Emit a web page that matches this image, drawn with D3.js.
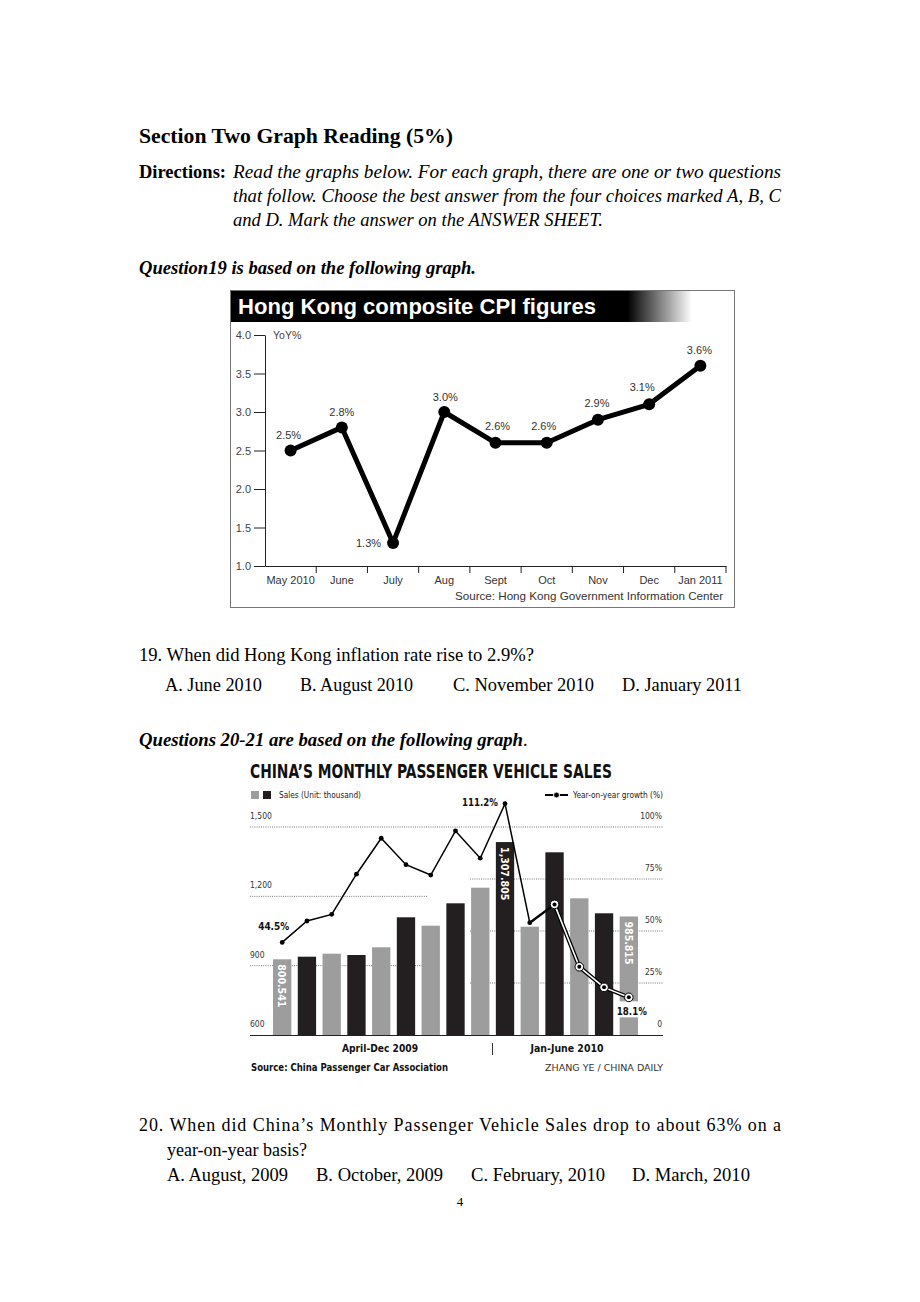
<!DOCTYPE html>
<html><head><meta charset="utf-8">
<script src="https://cdn.jsdelivr.net/npm/d3@7"></script>
<style>html,body{margin:0;padding:0;background:#fff;} svg{display:block;}</style>
</head><body>
<svg id="page" width="920" height="1302"></svg>
<script>
// ================= DATA =================
// Chart 1: Hong Kong composite CPI (YoY %)
const cpiMonths = ["May 2010","June","July","Aug","Sept","Oct","Nov","Dec","Jan 2011"];
const cpiValues = [2.5, 2.8, 1.3, 3.0, 2.6, 2.6, 2.9, 3.1, 3.6];
const cpiTicks  = [1.0, 1.5, 2.0, 2.5, 3.0, 3.5, 4.0];

// Chart 2: China's monthly passenger vehicle sales (thousand) and YoY growth (%)
const salesMonths  = ["Apr 2009","May 2009","Jun 2009","Jul 2009","Aug 2009","Sep 2009","Oct 2009","Nov 2009","Dec 2009",
                      "Jan 2010","Feb 2010","Mar 2010","Apr 2010","May 2010","Jun 2010"];
const salesValues  = [800.541, 811.8, 824.8, 819.1, 852.5, 982.3, 945.9, 1042.8, 1110.4,
                      1307.805, 941.6, 1263.5, 1064.5, 999.6, 985.815];
const growthValues = [44.5, 54.8, 58.0, 77.3, 94.6, 81.9, 76.9, 98.1, 85.0,
                      111.2, 54.0, 62.8, 32.8, 22.9, 18.1];
const salesTicks   = [600, 900, 1200, 1500];
const growthTicks  = [0, 25, 50, 75, 100];
const salesLabelIdx  = [0, 9, 14];
const growthLabelIdx = [0, 9, 14];

// ================= PAGE =================
const svg = d3.select("#page");
svg.append("rect").attr("width",920).attr("height",1302).attr("fill","#fff");

const SERIF = "'Liberation Serif','Times New Roman',serif";
const SANS  = "'Liberation Sans',Arial,sans-serif";
const COND  = "'DejaVu Sans Condensed','Liberation Sans Narrow','DejaVu Sans',sans-serif";

function txt(parent, x, y, s, o = {}) {
  const t = parent.append("text")
    .attr("x", x).attr("y", y)
    .attr("font-family", o.family || SERIF)
    .attr("font-size", o.size || 18)
    .attr("font-weight", o.weight || "normal")
    .attr("font-style", o.style || "normal")
    .attr("fill", o.fill || "#000")
    .attr("text-anchor", o.anchor || "start")
    .text(s);
  if (o.len) t.attr("textLength", o.len).attr("lengthAdjust", o.adjust || "spacingAndGlyphs");
  return t;
}

const page = svg.append("g");
txt(page, 139, 143, "Section Two Graph Reading (5%)", {size: 20, weight: "bold", len: 314});
txt(page, 139, 178, "Directions:", {weight: "bold", len: 87});
txt(page, 233, 178, "Read the graphs below. For each graph, there are one or two questions", {style: "italic", len: 548});
txt(page, 233, 202, "that follow. Choose the best answer from the four choices marked A, B, C", {style: "italic", len: 548});
txt(page, 233, 226, "and D. Mark the answer on the ANSWER SHEET.", {style: "italic", len: 370});
txt(page, 139, 274, "Question19 is based on the following graph.", {style: "italic", weight: "bold", len: 337});

txt(page, 139, 661, "19. When did Hong Kong inflation rate rise to 2.9%?", {len: 395});
txt(page, 165, 691, "A. June 2010", {len: 97});
txt(page, 300, 691, "B. August 2010", {len: 113});
txt(page, 453, 691, "C. November 2010", {len: 141});
txt(page, 622, 691, "D. January 2011", {len: 120});
txt(page, 139, 746, "Questions 20-21 are based on the following graph", {style: "italic", weight: "bold", len: 384});
txt(page, 523, 746, ".", {});

txt(page, 139, 1131, "20. When did China\u2019s Monthly Passenger Vehicle Sales drop to about 63% on a", {len: 642, adjust: "spacing"});
txt(page, 167, 1156, "year-on-year basis?", {len: 140});
txt(page, 167, 1181, "A. August, 2009", {len: 121});
txt(page, 316, 1181, "B. October, 2009", {len: 127});
txt(page, 471, 1181, "C. February, 2010", {len: 134});
txt(page, 632, 1181, "D. March, 2010", {len: 118});
txt(page, 460, 1206, "4", {size: 13, anchor: "middle"});

// ================= CHART 1: HK CPI =================
const c1 = svg.append("g");
c1.append("rect").attr("x", 230.5).attr("y", 290.5).attr("width", 504).attr("height", 317)
  .attr("fill", "#fff").attr("stroke", "#777").attr("stroke-width", 1);

const defs = svg.append("defs");
const grad = defs.append("linearGradient").attr("id", "titleGrad")
  .attr("gradientUnits", "userSpaceOnUse").attr("x1", 231).attr("x2", 692).attr("y1", 0).attr("y2", 0);
grad.append("stop").attr("offset", 0).attr("stop-color", "#000");
grad.append("stop").attr("offset", 0.86).attr("stop-color", "#000");
grad.append("stop").attr("offset", 1).attr("stop-color", "#fff");
c1.append("rect").attr("x", 231).attr("y", 291).attr("width", 462).attr("height", 31).attr("fill", "url(#titleGrad)");
txt(c1, 238, 314, "Hong Kong composite CPI figures", {family: SANS, size: 22, weight: "bold", fill: "#fff", len: 358});

const xC = d3.scaleBand().domain(cpiMonths).range([265, 726]);
const yC = d3.scaleLinear().domain([1, 4]).range([566, 335]);

const yAx = c1.append("g").attr("transform", "translate(265,0)")
  .call(d3.axisLeft(yC).tickValues(cpiTicks).tickSize(11).tickSizeOuter(0).tickPadding(3).tickFormat(d3.format(".1f")));
yAx.select(".domain").attr("stroke", "#222");
yAx.selectAll(".tick line").attr("stroke", "#222");
yAx.selectAll(".tick text").attr("font-family", SANS).attr("font-size", 11).attr("fill", "#444");

// x axis
const xAx = c1.append("g").attr("transform", "translate(0,566)")
  .call(d3.axisBottom(xC).tickSize(0).tickPadding(10).tickSizeOuter(0));
xAx.select(".domain").attr("stroke", "#222");
xAx.selectAll(".tick text").attr("font-family", SANS).attr("font-size", 11).attr("fill", "#333");
c1.append("g").selectAll("line").data(cpiMonths).join("line")
  .attr("x1", d => xC(d) + xC.bandwidth()).attr("x2", d => xC(d) + xC.bandwidth())
  .attr("y1", 566).attr("y2", 573).attr("stroke", "#222");

txt(c1, 265 + 8, 339, "YoY%", {family: SANS, size: 10.5, fill: "#444"});
txt(c1, 723, 600, "Source: Hong Kong Government Information Center", {family: SANS, size: 11, fill: "#333", anchor: "end", len: 268});

const cpiPts = cpiMonths.map((m, i) => ({m, v: cpiValues[i], x: xC(m) + xC.bandwidth() / 2, y: yC(cpiValues[i])}));
c1.append("path").datum(cpiPts)
  .attr("d", d3.line().x(d => d.x).y(d => d.y))
  .attr("fill", "none").attr("stroke", "#000").attr("stroke-width", 5).attr("stroke-linejoin", "round");
c1.append("g").selectAll("circle").data(cpiPts).join("circle")
  .attr("cx", d => d.x).attr("cy", d => d.y).attr("r", 6).attr("fill", "#000");

// label layout offsets (dx, dy from point)
const cpiLabelOff = [[-2,-12],[0,-11],[-12,4],[1,-11],[2,-13],[-3,-13],[-1,-13],[-7,-13],[-1,-12]];
c1.append("g").selectAll("text").data(cpiPts).join("text")
  .attr("x", (d, i) => d.x + cpiLabelOff[i][0])
  .attr("y", (d, i) => d.y + cpiLabelOff[i][1])
  .attr("text-anchor", (d, i) => i === 2 ? "end" : "middle")
  .attr("font-family", SANS).attr("font-size", 11).attr("fill", "#333")
  .text(d => d3.format(".1f")(d.v) + "%");

// ================= CHART 2: China vehicle sales =================
const c2 = svg.append("g");
txt(c2, 250, 778, "CHINA\u2019S MONTHLY PASSENGER VEHICLE SALES", {family: COND, size: 20, weight: "bold", fill: "#111", len: 362});

// legend
c2.append("rect").attr("x", 251).attr("y", 791).attr("width", 8).attr("height", 8).attr("fill", "#9d9d9d");
c2.append("rect").attr("x", 263).attr("y", 791).attr("width", 8).attr("height", 8).attr("fill", "#231f20");
txt(c2, 279, 798, "Sales (Unit: thousand)", {family: COND, size: 9, fill: "#222", len: 82});
c2.append("line").attr("x1", 545).attr("x2", 568).attr("y1", 795).attr("y2", 795).attr("stroke", "#000").attr("stroke-width", 2);
c2.append("circle").attr("cx", 556.5).attr("cy", 795).attr("r", 3).attr("fill", "#000").attr("stroke", "#fff").attr("stroke-width", 1);
txt(c2, 663, 798, "Year-on-year growth (%)", {family: COND, size: 9, fill: "#222", anchor: "end", len: 90});

const xS = d3.scaleBand().domain(salesMonths).range([269.8, 641.2]).paddingInner(0.26).paddingOuter(0.13);
const yAxisS = d3.scaleLinear().domain([600, 1500]).range([1035, 827]);   // printed left axis
// In the original graphic the bars sit on an offset baseline relative to the printed axis
// (the labelled bars 800.541 / 1,307.805 / 985.815 fit this scale), so bars use their own scale.
const yBar = d3.scaleLinear().domain([473, 1373]).range([1035, 827]);
const yG = d3.scaleLinear().domain([0, 100]).range([1035, 827]);

const grid = c2.append("g").attr("stroke", "#777").attr("stroke-width", 1).attr("stroke-dasharray", "1,1.2");
// top line (1,500 / 100%) full width
grid.append("line").attr("x1", 250).attr("x2", 663).attr("y1", yAxisS(1500)).attr("y2", yAxisS(1500));
grid.selectAll(".gl").data(salesTicks.filter(t => t > 600 && t < 1500)).join("line").attr("class", "gl")
  .attr("x1", 250).attr("x2", 428).attr("y1", d => yAxisS(d)).attr("y2", d => yAxisS(d));
grid.selectAll(".gr").data(growthTicks.filter(t => t > 0 && t < 100)).join("line").attr("class", "gr")
  .attr("x1", 470).attr("x2", 663).attr("y1", d => yG(d)).attr("y2", d => yG(d));

// axis labels
c2.append("g").selectAll("text").data(salesTicks).join("text")
  .attr("x", 250).attr("y", d => yAxisS(d) - 8)
  .attr("font-family", COND).attr("font-size", 8.5).attr("fill", "#333")
  .text(d => d3.format(",")(d));
c2.append("g").selectAll("text").data(growthTicks).join("text")
  .attr("x", 662).attr("y", d => yG(d) - 8.5).attr("text-anchor", "end")
  .attr("font-family", COND).attr("font-size", 8.5).attr("fill", "#333")
  .text(d => d === 0 ? "0" : d + "%");

// bars
c2.append("g").selectAll("rect").data(salesMonths).join("rect")
  .attr("x", d => xS(d)).attr("width", xS.bandwidth())
  .attr("y", (d, i) => yBar(salesValues[i]))
  .attr("height", (d, i) => 1035 - yBar(salesValues[i]))
  .attr("fill", (d, i) => i % 2 === 0 ? "#9d9d9d" : "#231f20");

// bar value labels (rotated)
c2.append("g").selectAll("text").data(salesLabelIdx).join("text")
  .attr("transform", i => `translate(${xS(salesMonths[i]) + xS.bandwidth() / 2},${yBar(salesValues[i]) + 5}) rotate(90)`)
  .attr("dy", "0.36em")
  .attr("font-family", COND).attr("font-size", 10.5).attr("font-weight", "bold").attr("fill", "#fff")
  .text(i => d3.format(",.3f")(salesValues[i]));

// baseline
c2.append("line").attr("x1", 250).attr("x2", 663).attr("y1", 1035.5).attr("y2", 1035.5).attr("stroke", "#222").attr("stroke-width", 1);

// growth line
const gPts = salesMonths.map((m, i) => ({x: xS(m) + xS.bandwidth() / 2, y: yG(growthValues[i]), i}));
const ln = d3.line().x(d => d.x).y(d => d.y);
c2.append("path").datum(gPts.slice(0, 11)).attr("d", ln).attr("fill", "none").attr("stroke", "#000").attr("stroke-width", 1.5);
c2.append("path").datum(gPts.slice(10, 12)).attr("d", ln).attr("fill", "none").attr("stroke", "#000").attr("stroke-width", 2.4);
c2.append("path").datum(gPts.slice(11)).attr("d", ln).attr("fill", "none").attr("stroke", "#000").attr("stroke-width", 4.2).attr("stroke-linejoin", "round");
c2.append("path").datum(gPts.slice(11)).attr("d", ln).attr("fill", "none").attr("stroke", "#fff").attr("stroke-width", 1.6).attr("stroke-linejoin", "round");

// white box behind the 18.1% label
const last = gPts[14];
c2.append("rect").attr("x", last.x - 13).attr("y", last.y + 4).attr("width", 32).attr("height", 16).attr("fill", "#fff");

c2.append("g").selectAll("circle.s").data(gPts.slice(0, 11)).join("circle").attr("class", "s")
  .attr("cx", d => d.x).attr("cy", d => d.y).attr("r", 2.4).attr("fill", "#000");
c2.append("g").selectAll("circle.o").data(gPts.slice(11)).join("circle").attr("class", "o")
  .attr("cx", d => d.x).attr("cy", d => d.y).attr("r", 4.3).attr("fill", "#fff").attr("stroke", "#000").attr("stroke-width", 1);
c2.append("g").selectAll("circle.c").data(gPts.slice(11)).join("circle").attr("class", "c")
  .attr("cx", d => d.x).attr("cy", d => d.y).attr("r", 2).attr("fill", "#000");

// growth labels
const gLabelPos = {0: [-24, -12, 31], 9: [-7, 2, 36], 14: [-12, 18, 30]};
growthLabelIdx.forEach(i => {
  const p = gPts[i], o = gLabelPos[i];
  txt(c2, p.x + o[0], p.y + o[1], d3.format(".1f")(growthValues[i]) + "%",
      {family: COND, size: 11, weight: "bold", fill: "#111", anchor: i === 9 ? "end" : "start", len: o[2]});
});

// bottom labels
txt(c2, 380, 1052, "April-Dec 2009", {family: COND, size: 10.5, weight: "bold", fill: "#111", anchor: "middle", len: 76});
c2.append("line").attr("x1", 492.5).attr("x2", 492.5).attr("y1", 1043).attr("y2", 1055).attr("stroke", "#333").attr("stroke-width", 1);
txt(c2, 567, 1052, "Jan-June 2010", {family: COND, size: 10.5, weight: "bold", fill: "#111", anchor: "middle", len: 73});
txt(c2, 251, 1071, "Source: China Passenger Car Association", {family: COND, size: 10.5, weight: "bold", fill: "#111", len: 197});
txt(c2, 663, 1071, "ZHANG YE / CHINA DAILY", {family: COND, size: 9, fill: "#333", anchor: "end", len: 118});
</script>
</body></html>
